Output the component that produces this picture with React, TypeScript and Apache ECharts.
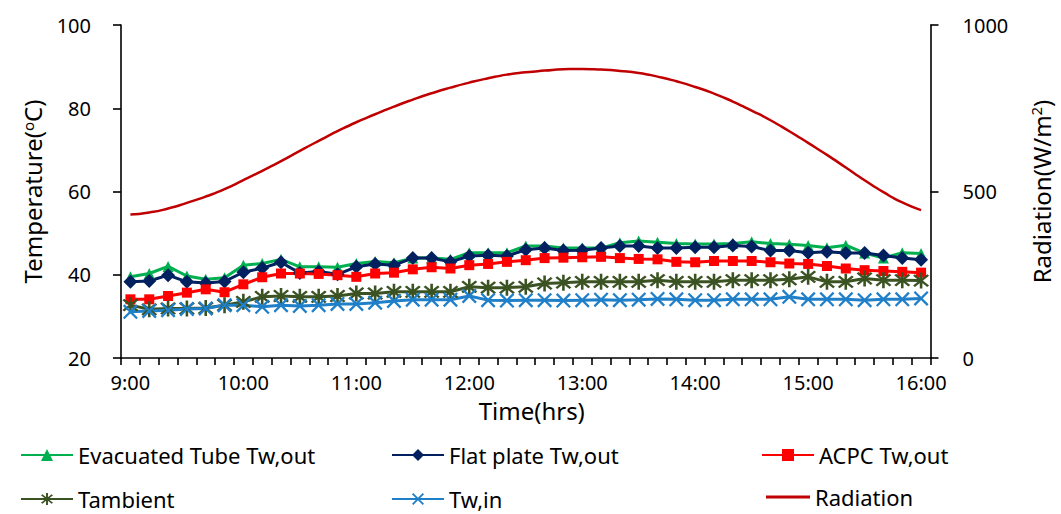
import React, { useEffect, useRef } from "react";
import * as echarts from "echarts";

const times = [
  "9:00", "9:10", "9:20", "9:30", "9:40", "9:50",
  "10:00", "10:10", "10:20", "10:30", "10:40", "10:50",
  "11:00", "11:10", "11:20", "11:30", "11:40", "11:50",
  "12:00", "12:10", "12:20", "12:30", "12:40", "12:50",
  "13:00", "13:10", "13:20", "13:30", "13:40", "13:50",
  "14:00", "14:10", "14:20", "14:30", "14:40", "14:50",
  "15:00", "15:10", "15:20", "15:30", "15:40", "15:50",
  "16:00",
];

const evacuated = [
  39.5, 40.3, 42.0, 39.7, 38.9, 39.3, 42.3, 42.7, 43.7, 41.9, 41.9, 41.8, 42.7, 43.2, 42.9,
  44.0, 44.0, 43.7, 45.3, 45.3, 45.3, 46.9, 46.9, 46.4, 46.4, 46.4, 47.7, 48.1, 47.8, 47.5,
  47.4, 47.4, 47.5, 47.9, 47.5, 47.3, 47.0, 46.5, 47.1, 45.2, 44.0, 45.3, 45.1,
];
const flatPlate = [
  38.3, 38.5, 39.9, 38.3, 38.0, 38.4, 40.6, 41.6, 43.0, 40.4, 40.8, 40.1, 41.9, 42.6, 42.3,
  44.0, 44.0, 43.1, 44.5, 44.7, 44.5, 46.0, 46.4, 45.8, 45.9, 46.4, 46.9, 46.9, 46.4, 46.4,
  46.6, 46.6, 47.0, 46.8, 45.8, 45.8, 45.3, 45.5, 45.2, 45.2, 44.6, 44.0, 43.6,
];
const acpc = [
  34.1, 34.1, 34.9, 35.7, 36.5, 35.8, 37.7, 39.4, 40.3, 40.3, 40.2, 39.9, 39.5, 40.3, 40.5,
  41.3, 41.8, 41.5, 42.3, 42.6, 43.1, 43.5, 44.0, 44.1, 44.2, 44.3, 44.0, 43.8, 43.7, 43.1,
  43.0, 43.3, 43.3, 43.3, 43.0, 42.7, 42.6, 42.1, 41.5, 41.1, 40.9, 40.7, 40.5,
];
const tambient = [
  32.7, 31.7, 31.9, 31.9, 32.0, 32.7, 33.5, 34.7, 34.9, 34.7, 34.7, 34.9, 35.5, 35.5, 35.9,
  35.9, 35.9, 35.9, 37.1, 36.9, 36.9, 37.1, 37.9, 38.1, 38.3, 38.3, 38.3, 38.3, 38.7, 38.3,
  38.3, 38.3, 38.7, 38.7, 38.7, 38.9, 39.5, 38.3, 38.3, 39.1, 38.7, 38.7, 38.6,
];
const twIn = [
  31.1, 31.3, 31.5, 31.8, 31.9, 32.7, 32.7, 32.3, 32.7, 32.5, 32.7, 33.0, 33.0, 33.3, 33.7,
  34.0, 34.0, 34.0, 34.9, 33.9, 33.8, 33.9, 33.9, 33.8, 33.9, 34.0, 33.9, 34.0, 34.2, 34.1,
  33.9, 33.9, 34.1, 34.1, 34.1, 34.7, 34.1, 34.1, 34.1, 33.9, 34.1, 34.1, 34.3,
];
const radiation = [
  431, 437, 449, 466, 485, 507, 534, 562, 591, 622, 652, 681, 708, 732, 755,
  776, 795, 812, 827, 840, 851, 858, 863, 867, 868, 866, 862, 856, 845, 831,
  814, 794, 770, 743, 714, 681, 646, 610, 572, 534, 498, 467, 444,
];

const FONT = "'Noto Sans', 'Open Sans', sans-serif";

const ASTERISK =
  "path://M-1.3,-10L1.3,-10L1.3,10L-1.3,10Z" +
  "M6.15,8.0L-8.0,-6.15L-6.15,-8.0L8.0,6.15Z" +
  "M-8.0,6.15L6.15,-8.0L8.0,-6.15L-6.15,8.0Z";
const XMARK =
  "path://M6.2,7.9L-7.9,-6.2L-6.2,-7.9L7.9,6.2Z" +
  "M-7.9,6.2L6.2,-7.9L7.9,-6.2L-6.2,7.9Z";

export default function App() {
  const ref = useRef<HTMLDivElement>(null);

  useEffect(() => {
    document.body.style.margin = "0";
    if (!ref.current) return;
    const chart = echarts.init(ref.current, null, { renderer: "svg" });

    const lineSeries = (
      name: string,
      data: number[],
      color: string,
      symbol: string,
      symbolSize: number
    ) => ({
      name,
      type: "line",
      data,
      symbol,
      symbolSize,
      showSymbol: true,
      showAllSymbol: true,
      itemStyle: { color },
      lineStyle: { color, width: 3 },
      emphasis: { disabled: true },
    });

    const legendText = { fontSize: 22, fontFamily: FONT, color: "#000" };
    const mkLegend = (name: string, left: number, top: number, extra: any = {}) => ({
      data: [name],
      left,
      top,
      padding: 0,
      itemWidth: 52,
      itemHeight: 15,
      textStyle: legendText,
      selectedMode: false,
      ...extra,
    });

    const axisLineStyle = { color: "#000", width: 1.6 };

    chart.setOption({
      animation: false,
      backgroundColor: "#fff",
      grid: { left: 121, right: 128, top: 25, bottom: 156 },
      legend: [
        mkLegend("Evacuated Tube Tw,out", 20, 444),
        mkLegend("Flat plate Tw,out", 391, 444),
        mkLegend("ACPC Tw,out", 761, 444),
        mkLegend("Tambient", 20, 488),
        mkLegend("Tw,in", 391, 488),
        mkLegend("Radiation", 766, 486, { icon: "rect", itemWidth: 44, itemHeight: 3, itemGap: 0 }),
      ],
      xAxis: {
        type: "category",
        data: times,
        boundaryGap: true,
        name: "Time(hrs)",
        nameLocation: "middle",
        nameGap: 40,
        nameTextStyle: { fontSize: 24, fontFamily: FONT, color: "#000", padding: [0, 0, 0, 12] },
        axisLine: { show: true, lineStyle: axisLineStyle },
        axisTick: { show: true, interval: 0, length: 7, alignWithLabel: false, lineStyle: axisLineStyle },
        axisLabel: { interval: 5, fontSize: 20, fontFamily: FONT, color: "#000", margin: 14 },
        splitLine: { show: false },
      },
      yAxis: [
        {
          type: "value",
          min: 20,
          max: 100,
          interval: 20,
          position: "left",
          name: "Temperature({sup|o}C)",
          nameLocation: "middle",
          nameRotate: 90,
          nameGap: 76,
          nameTextStyle: {
            fontSize: 24,
            fontFamily: FONT,
            color: "#000",
            rich: { sup: { fontSize: 15, fontFamily: FONT, color: "#000", padding: [0, 0, 10, 0] } },
          },
          axisLine: { show: true, lineStyle: axisLineStyle },
          axisTick: { show: true, length: 8, lineStyle: axisLineStyle },
          axisLabel: { fontSize: 20, fontFamily: FONT, color: "#000", margin: 30 },
          splitLine: { show: false },
        },
        {
          type: "value",
          min: 0,
          max: 1000,
          interval: 500,
          position: "right",
          name: "Radiation(W/m{sup|2})",
          nameLocation: "middle",
          nameRotate: 90,
          nameGap: 98,
          nameTextStyle: {
            fontSize: 24,
            fontFamily: FONT,
            color: "#000",
            rich: { sup: { fontSize: 15, fontFamily: FONT, color: "#000", padding: [0, 0, 10, 0] } },
          },
          axisLine: { show: true, lineStyle: axisLineStyle },
          axisTick: { show: true, length: 8, lineStyle: axisLineStyle },
          axisLabel: {
            fontSize: 20,
            fontFamily: FONT,
            color: "#000",
            margin: 32,
            formatter: (v: number) => String(v),
          },
          splitLine: { show: false },
        },
      ],
      series: [
        lineSeries("Evacuated Tube Tw,out", evacuated, "#00B050", "triangle", 11),
        lineSeries("Flat plate Tw,out", flatPlate, "#002060", "diamond", 14),
        lineSeries("ACPC Tw,out", acpc, "#FF0000", "rect", 10),
        lineSeries("Tambient", tambient, "#3B5323", ASTERISK, 16),
        lineSeries("Tw,in", twIn, "#1F7FC8", XMARK, 15),
        {
          name: "Radiation",
          type: "line",
          yAxisIndex: 1,
          data: radiation,
          smooth: 0.6,
          symbol: "none",
          showSymbol: false,
          itemStyle: { color: "#C00000" },
          lineStyle: { color: "#C00000", width: 2.5 },
          emphasis: { disabled: true },
        },
      ],
    });

    return () => chart.dispose();
  }, []);

  return <div ref={ref} style={{ width: 1061, height: 514 }} />;
}
